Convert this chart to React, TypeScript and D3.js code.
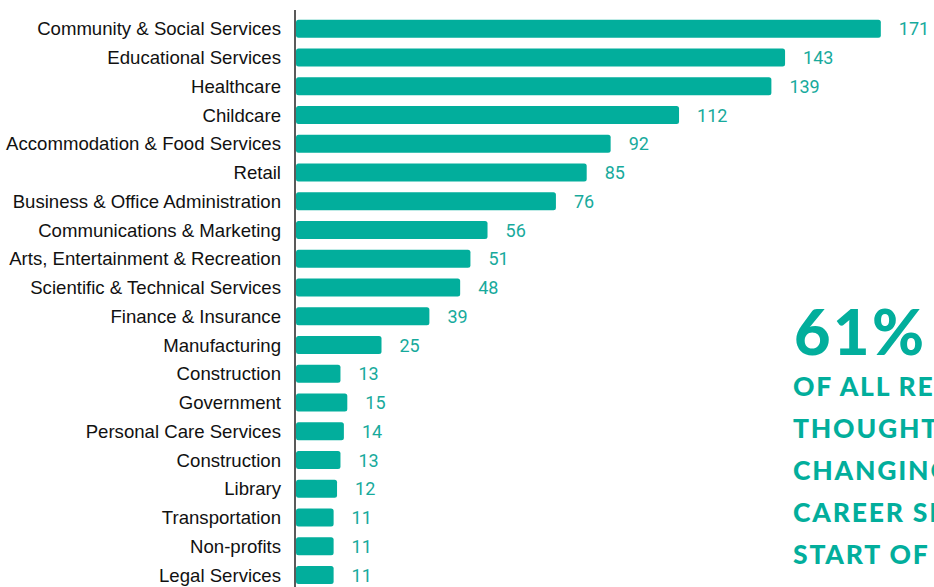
import React from "react";
import * as d3 from "d3";

const categories = [
  "Community & Social Services",
  "Educational Services",
  "Healthcare",
  "Childcare",
  "Accommodation & Food Services",
  "Retail",
  "Business & Office Administration",
  "Communications & Marketing",
  "Arts, Entertainment & Recreation",
  "Scientific & Technical Services",
  "Finance & Insurance",
  "Manufacturing",
  "Construction",
  "Government",
  "Personal Care Services",
  "Construction",
  "Library",
  "Transportation",
  "Non-profits",
  "Legal Services",
];
const values = [171, 143, 139, 112, 92, 85, 76, 56, 51, 48, 39, 25, 13, 15, 14, 13, 12, 11, 11, 11];
const headline = "61%";
const calloutLines = [
  "OF ALL RESPONDENTS",
  "THOUGHT ABOUT",
  "CHANGING THEIR",
  "CAREER SINCE THE",
  "START OF THE PANDEMIC",
];

const W = 934;
const H = 587;
const TEAL = "#02ae9c";
const TEAL_TEXT = "#17aa9c";

export default function App() {
  const idx = categories.map((_, i) => i);
  const y = d3.scaleBand<number>().domain(idx).range([14.4, 14.4 + 20 * 28.75]).paddingInner(0.37).paddingOuter(0.185);
  const x = d3.scaleLinear().domain([0, 171]).range([296, 296 + 171 * 3.42]);

  return (
    <svg width={W} height={H} style={{ position: "absolute", left: 0, top: 0, display: "block", background: "#fff" }}>
      <line x1={295} x2={295} y1={10} y2={H} stroke="#5a5a5a" strokeWidth={2} />
      {idx.map((i) => {
        const yc = (y(i) as number) + y.bandwidth() / 2;
        return (
          <g key={i}>
            <rect x={x(0)} y={y(i)} width={x(values[i]) - x(0)} height={y.bandwidth()} rx={2.5} fill={TEAL} />
            <text x={281} y={yc} dy="0.35em" textAnchor="end" fontFamily="'Liberation Sans', Arial, sans-serif" fontSize={18.6} fill="#111">
              {categories[i]}
            </text>
            <text x={x(values[i]) + 18} y={yc} dy="0.36em" fontFamily="Roboto, sans-serif" fontSize={18} fill={TEAL_TEXT}>
              {values[i]}
            </text>
          </g>
        );
      })}
      <text x={794} y={355} fontFamily="Lato, sans-serif" fontWeight={900} fontSize={63} letterSpacing={2.5} fill={TEAL}>
        {headline}
      </text>
      {calloutLines.map((t, i) => (
        <text key={i} x={793} y={396 + i * 42} fontFamily="Lato, sans-serif" fontWeight={900} fontSize={26.5} letterSpacing={1.8} fill={TEAL}>
          {t}
        </text>
      ))}
    </svg>
  );
}
